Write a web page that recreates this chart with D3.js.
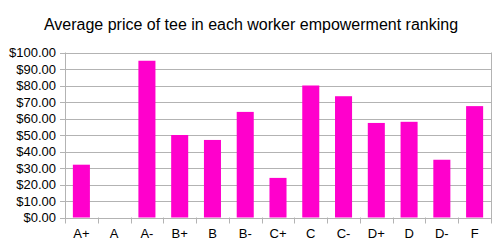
<!DOCTYPE html>
<html>
<head>
<meta charset="utf-8">
<script src="https://cdn.jsdelivr.net/npm/d3@7"></script>
<style>
  body { margin: 0; background: #fff; }
  text { font-family: "Liberation Sans", Arial, sans-serif; fill: #000; }
</style>
</head>
<body>
<div id="chart"></div>
<script>
const rankings = ['A+', 'A', 'A-', 'B+', 'B', 'B-', 'C+', 'C', 'C-', 'D+', 'D', 'D-', 'F'];
const prices = [32, null, 95, 50, 47, 64, 24, 80, 73.5, 57.3, 58, 35, 67.5];
const yTicks = [0, 10, 20, 30, 40, 50, 60, 70, 80, 90, 100];

const width = 501;
const height = 247;
const margin = { top: 52.5, right: 10, bottom: 29.5, left: 65 };

const svg = d3.select('#chart')
  .append('svg')
  .attr('width', width)
  .attr('height', height);

const xScale = d3.scaleBand()
  .domain(rankings)
  .range([margin.left, width - margin.right])
  .paddingInner(0.48)
  .paddingOuter(0.24);

const yScale = d3.scaleLinear()
  .domain([0, 100])
  .range([height - margin.bottom, margin.top]);

svg.append('text')
  .attr('x', 251)
  .attr('y', 30)
  .attr('text-anchor', 'middle')
  .style('font-size', '16px')
  .text('Average price of tee in each worker empowerment ranking');

// horizontal grid
svg.append('g')
  .selectAll('line')
  .data(yTicks)
  .enter()
  .append('line')
  .attr('x1', margin.left - 5)
  .attr('x2', width - margin.right)
  .attr('y1', d => Math.round(yScale(d)) + 0.5)
  .attr('y2', d => Math.round(yScale(d)) + 0.5)
  .attr('stroke', '#b3b3b3');

// vertical edges and x ticks
const step = xScale.step();
const edges = d3.range(rankings.length + 1).map(i => margin.left + i * step);
svg.append('g')
  .selectAll('line')
  .data(edges)
  .enter()
  .append('line')
  .attr('x1', d => Math.round(d) + 0.5)
  .attr('x2', d => Math.round(d) + 0.5)
  .attr('y1', (d, i) => (i === 0 || i === rankings.length) ? yScale(100) : yScale(0))
  .attr('y2', yScale(0) + 6)
  .attr('stroke', '#b3b3b3');

svg.selectAll('.bar')
  .data(rankings.map((r, i) => ({ r, v: prices[i] })).filter(d => d.v != null))
  .enter()
  .append('rect')
  .attr('class', 'bar')
  .attr('x', d => xScale(d.r))
  .attr('y', d => yScale(d.v))
  .attr('width', xScale.bandwidth())
  .attr('height', d => yScale(0) - yScale(d.v))
  .attr('fill', '#ff00cc');

const yAxis = d3.axisLeft(yScale)
  .tickValues(yTicks)
  .tickSize(0)
  .tickPadding(9)
  .tickFormat(d => '$' + d.toFixed(2));

svg.append('g')
  .attr('transform', `translate(${margin.left}, 0)`)
  .call(yAxis)
  .call(g => g.select('.domain').remove())
  .selectAll('text')
  .style('font-size', '13px')
  .attr('fill', '#000');

const xAxis = d3.axisBottom(xScale)
  .tickSize(0)
  .tickPadding(11);

svg.append('g')
  .attr('transform', `translate(0, ${yScale(0)})`)
  .call(xAxis)
  .call(g => g.select('.domain').remove())
  .selectAll('text')
  .style('font-size', '13px')
  .attr('fill', '#000');
</script>
</body>
</html>
